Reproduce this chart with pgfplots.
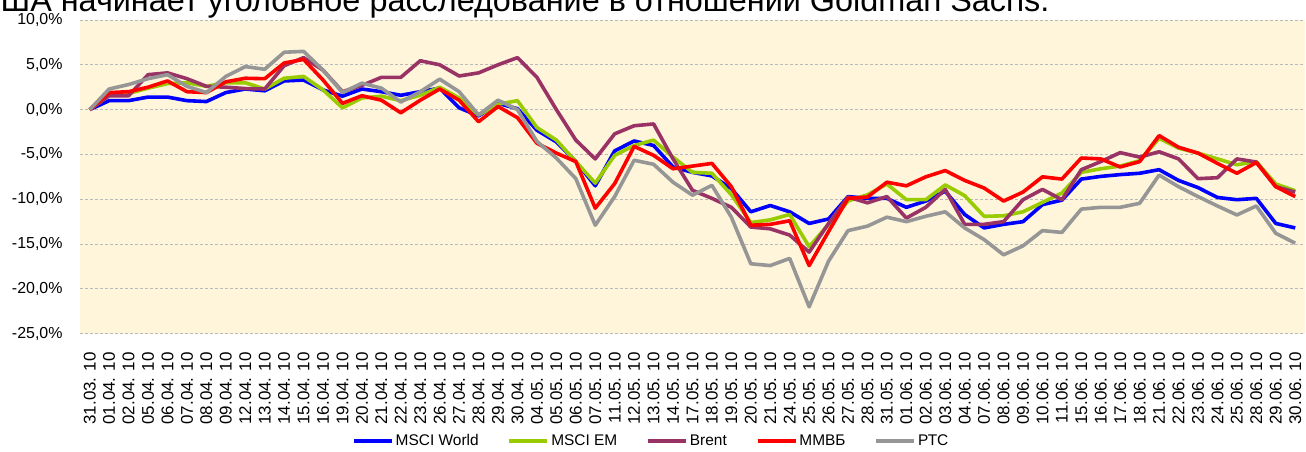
\documentclass[border=0pt]{standalone}
\usepackage{fontspec}
\setmainfont{Liberation Sans}
\usepackage{pgfplots}
\usepackage{pgfplotstable}
\pgfplotsset{compat=1.18}
\definecolor{cWorld}{RGB}{0,0,255}
\definecolor{cEM}{RGB}{153,204,0}
\definecolor{cBrent}{RGB}{153,51,102}
\definecolor{cMMVB}{RGB}{255,0,0}
\definecolor{cRTS}{RGB}{150,150,150}
\definecolor{bgc}{RGB}{255,245,218}
\pgfplotstableread{
x w em br mm rt
0 0 0 0 0 0
1 1.0 1.6 1.55 1.9 2.3
2 1.0 1.8 1.55 2.0 2.8
3 1.4 2.4 3.9 2.5 3.45
4 1.4 2.9 4.1 3.2 3.9
5 1.0 3.0 3.45 2.0 2.6
6 0.9 2.6 2.6 1.9 1.9
7 1.9 3.0 2.5 3.1 3.7
8 2.3 3.0 2.35 3.5 4.8
9 2.1 2.3 2.3 3.45 4.5
10 3.2 3.5 4.9 5.2 6.4
11 3.3 3.7 5.8 5.6 6.5
12 2.2 2.2 4.4 3.3 4.4
13 1.5 0.2 2.0 0.7 1.9
14 2.3 1.3 2.7 1.55 2.95
15 2.0 1.5 3.6 1.05 2.4
16 1.6 1.0 3.6 -0.35 0.85
17 2.0 1.6 5.45 1.05 2.0
18 2.4 2.5 5.0 2.3 3.4
19 0.2 1.3 3.75 1.05 2.0
20 -0.7 -0.6 4.1 -1.35 -0.6
21 0.7 0.6 5.0 0.35 1.05
22 0.1 1.0 5.8 -0.9 0.0
23 -2.3 -2.0 3.6 -3.75 -3.55
24 -3.6 -3.4 0.0 -4.85 -5.4
25 -5.8 -5.8 -3.4 -5.8 -7.7
26 -8.5 -8.2 -5.5 -11.0 -12.9
27 -4.6 -5.1 -2.7 -8.25 -9.7
28 -3.5 -4.0 -1.8 -4.1 -5.65
29 -4.0 -3.4 -1.6 -5.1 -6.1
30 -6.4 -5.3 -5.5 -6.6 -8.1
31 -7.0 -7.0 -9.0 -6.3 -9.55
32 -7.4 -7.1 -9.9 -6.0 -8.45
33 -8.8 -9.5 -10.9 -8.6 -12.0
34 -11.4 -12.6 -13.1 -12.9 -17.2
35 -10.7 -12.3 -13.3 -12.8 -17.4
36 -11.4 -11.7 -14.0 -12.4 -16.6
37 -12.7 -15.3 -15.9 -17.4 -22.0
38 -12.2 -12.8 -12.7 -13.6 -16.9
39 -9.7 -10.2 -9.75 -9.9 -13.5
40 -9.9 -9.5 -10.4 -9.75 -13.0
41 -9.9 -8.3 -9.7 -8.1 -12.0
42 -10.9 -10.05 -12.1 -8.5 -12.5
43 -10.2 -10.05 -10.9 -7.5 -11.9
44 -9.1 -8.4 -8.9 -6.8 -11.4
45 -11.7 -9.6 -12.8 -7.9 -13.2
46 -13.2 -11.9 -12.8 -8.75 -14.5
47 -12.8 -11.85 -12.5 -10.2 -16.2
48 -12.5 -11.4 -10.05 -9.2 -15.2
49 -10.6 -10.35 -8.9 -7.5 -13.5
50 -10.1 -9.3 -10.05 -7.75 -13.7
51 -7.75 -7.0 -6.7 -5.4 -11.1
52 -7.45 -6.6 -5.8 -5.5 -10.9
53 -7.25 -6.3 -4.8 -6.4 -10.9
54 -7.1 -5.7 -5.3 -5.8 -10.45
55 -6.7 -3.2 -4.7 -2.9 -7.3
56 -7.9 -4.3 -5.5 -4.2 -8.6
57 -8.7 -4.85 -7.7 -4.85 -9.7
58 -9.8 -5.5 -7.6 -6.0 -10.75
59 -10.05 -6.15 -5.5 -7.1 -11.75
60 -9.9 -5.8 -5.85 -5.9 -10.75
61 -12.7 -8.3 -8.6 -8.6 -13.8
62 -13.2 -9.05 -9.2 -9.7 -14.9
}\datatable
\begin{document}
\begin{tikzpicture}[x=1bp,y=1bp]
\useasboundingbox (0,0) rectangle (1306,452);
\node[anchor=base west, inner sep=0pt, font=\fontsize{32.5}{36}\selectfont] at (-23,440) {США начинает уголовное расследование в отношении Goldman Sachs.};
\begin{axis}[
  at={(80bp,118.3bp)}, anchor=south west,
  scale only axis, width=1225bp, height=313.7bp,
  xmin=-0.5, xmax=62.5, ymin=-25, ymax=10,
  axis background/.style={fill=bgc},
  axis line style={draw=none},
  major tick length=0pt,
  ytick={-25,-20,...,10},
  yticklabels={{-25,0\%},{-20,0\%},{-15,0\%},{-10,0\%},{-5,0\%},{0,0\%},{5,0\%},{10,0\%}},
  yticklabel style={font=\fontsize{16}{18}\selectfont, xshift=-14bp},
  ymajorgrids,
  major grid style={gray!55, line width=0.9bp, dash pattern=on 3bp off 2bp},
  xtick={0,...,62},
  xticklabels={31.03. 10,01.04. 10,02.04. 10,05.04. 10,06.04. 10,07.04. 10,08.04. 10,09.04. 10,12.04. 10,13.04. 10,14.04. 10,15.04. 10,16.04. 10,19.04. 10,20.04. 10,21.04. 10,22.04. 10,23.04. 10,26.04. 10,27.04. 10,28.04. 10,29.04. 10,30.04. 10,04.05. 10,05.05. 10,06.05. 10,07.05. 10,11.05. 10,12.05. 10,13.05. 10,14.05. 10,17.05. 10,18.05. 10,19.05. 10,20.05. 10,21.05. 10,24.05. 10,25.05. 10,26.05. 10,27.05. 10,28.05. 10,31.05. 10,01.06. 10,02.06. 10,03.06. 10,04.06. 10,07.06. 10,08.06. 10,09.06. 10,10.06. 10,11.06. 10,15.06. 10,16.06. 10,17.06. 10,18.06. 10,21.06. 10,22.06. 10,23.06. 10,24.06. 10,25.06. 10,28.06. 10,29.06. 10,30.06. 10},
  xticklabel style={rotate=90, anchor=east, font=\fontsize{17}{18}\selectfont, xshift=-15bp},
  legend columns=-1,
  legend style={at={(0.222,-0.342)}, anchor=west, draw=none, fill=none, inner sep=0pt,
    font=\fontsize{15.5}{17}\selectfont,
    /tikz/every even column/.append style={column sep=27bp}},
  legend image code/.code={\draw[#1] (0bp,0bp) -- (38bp,0bp);},
  every axis plot/.append style={line width=3.6bp, line join=round},
]
\addplot[cWorld, no markers] table[x=x, y=w] {\datatable};
\addlegendentry{MSCI World}
\addplot[cEM, no markers] table[x=x, y=em] {\datatable};
\addlegendentry{MSCI EM}
\addplot[cBrent, no markers] table[x=x, y=br] {\datatable};
\addlegendentry{Brent}
\addplot[cMMVB, no markers] table[x=x, y=mm] {\datatable};
\addlegendentry{ММВБ}
\addplot[cRTS, no markers] table[x=x, y=rt] {\datatable};
\addlegendentry{РТС}
\end{axis}
\end{tikzpicture}
\end{document}
